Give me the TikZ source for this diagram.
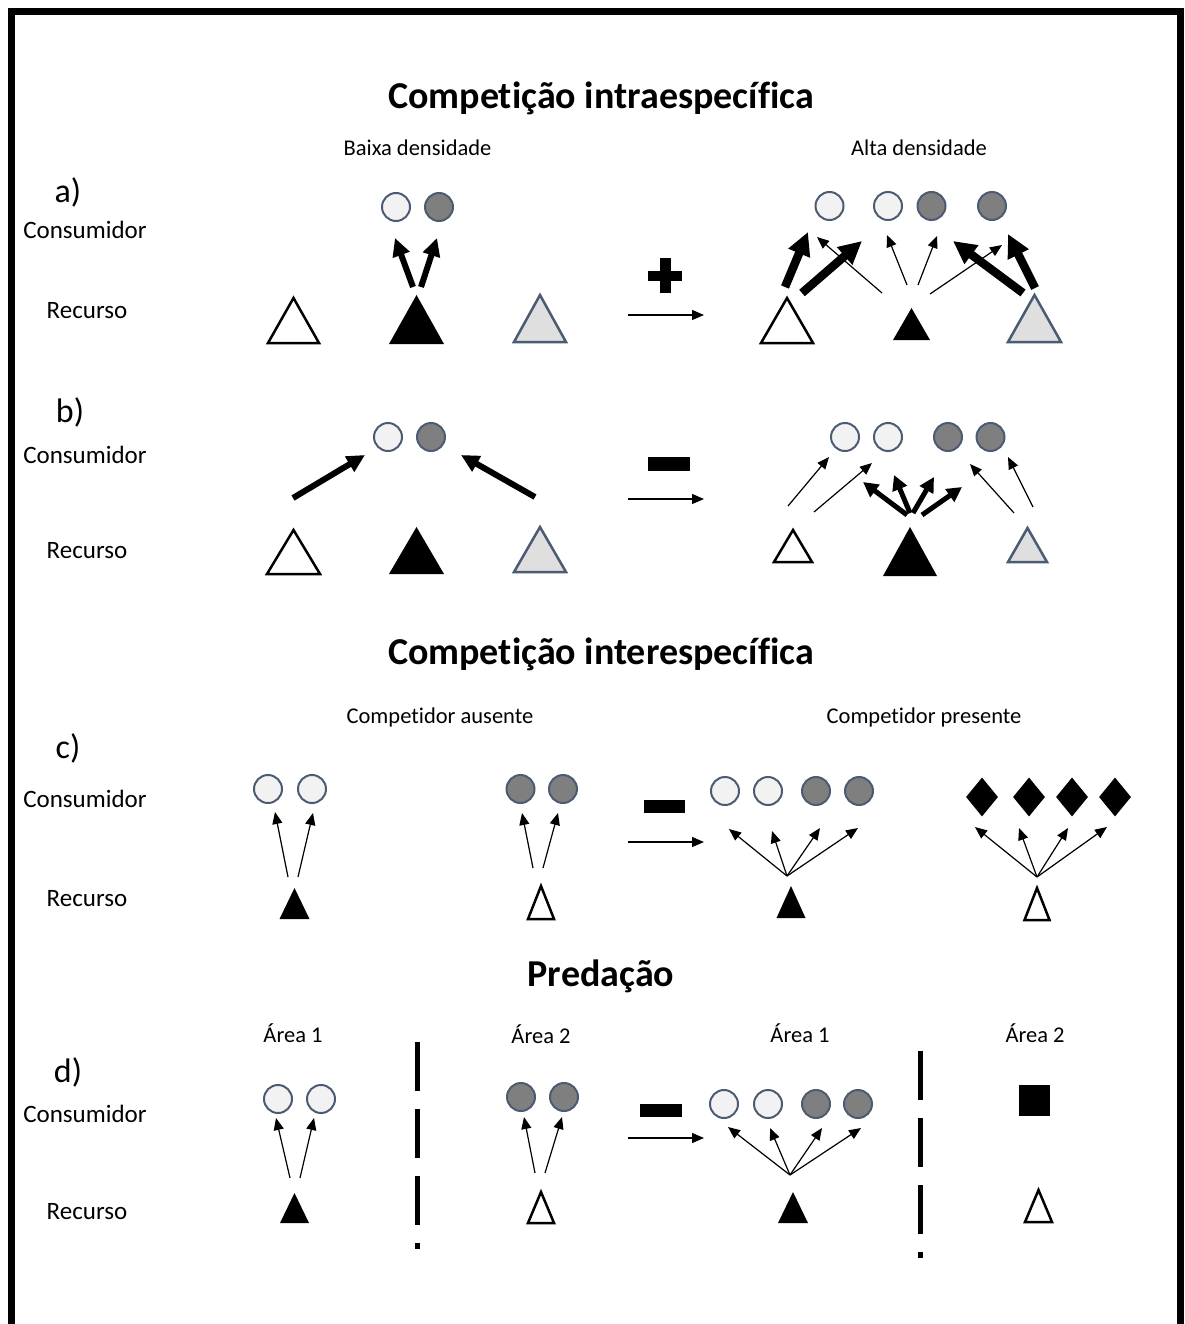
\documentclass[tikz,border=0pt]{standalone}
\usepackage{fontspec}
\setmainfont{Carlito}[Ligatures=CommonOff]
\usetikzlibrary{arrows.meta,shapes.geometric,positioning}

\definecolor{rim}{HTML}{4A5B72}
\definecolor{pale}{HTML}{F2F2F2}
\definecolor{shade}{HTML}{7F7F7F}
\definecolor{ash}{HTML}{DFDFDF}

\begin{document}
\begin{tikzpicture}[x=1pt, y=-1pt,
                    heading/.style={font=\fontsize{38}{44}\selectfont\bfseries},
                    sub/.style={font=\fontsize{22.5}{27}\selectfont},
                    lvl/.style={font=\fontsize{25}{30}\selectfont},
                    tag/.style={font=\fontsize{34}{40}\selectfont},
                    cons/.style={circle, draw=rim, line width=2pt, minimum size=28pt, inner sep=0pt},
                    lightc/.style={cons, fill=pale},
                    darkc/.style={cons, fill=shade},
                    res/.style={isosceles triangle, isosceles triangle stretches, rotate=90,
                                anchor=apex, inner sep=0pt, outer sep=0pt},
                    tri/.style 2 args={minimum width=#1pt, minimum height=#2pt},
                    whiter/.style={res, draw=black, fill=white, line width=2.5pt},
                    blackr/.style={res, fill=black},
                    greyr/.style={res, draw=rim, fill=ash, line width=2.5pt},
                    thin arr/.style={-{Triangle[length=12pt, width=10pt]}, line width=1.2pt},
                    thick arr/.style={-{Triangle[length=18pt, width=17pt]}, line width=6pt},
                    mid arr/.style={-{Triangle[length=15pt, width=15pt]}, line width=5pt},
                    heavy arr/.style={-{Triangle[length=23pt, width=22pt]}, line width=8.5pt},
                    sign/.style={fill=black, inner sep=0pt, minimum width=42pt, minimum height=14pt},
                    fence/.style={line width=5pt, dash pattern=on 49pt off 18pt}]
    \useasboundingbox (0,0) rectangle (1184,1324);
    \draw[line width=7pt] (11,1330) -- (11,11.5) -- (1180.5,11.5) -- (1180.5,1330);

    % titles and row labels
    \node[heading] (intra) at (601,98) {Competição intraespecífica};
    \node[sub] (baixa) at (417.5,148) {Baixa densidade};
    \node[sub] (alta) at (919,148) {Alta densidade};
    \node[tag] (la) at (68,192) {a)};
    \node[lvl] (consA) at (85,230) {Consumidor};
    \node[lvl] (recA) at (87,311) {Recurso};
    \node[tag] (lb) at (70,412) {b)};
    \node[lvl] (consB) at (85,455) {Consumidor};
    \node[lvl] (recB) at (87,551) {Recurso};
    \node[heading] (inter) at (601,654) {Competição interespecífica};
    \node[sub] (ausente) at (440,717) {Competidor ausente};
    \node[sub] (presente) at (924,717) {Competidor presente};
    \node[tag] (lc) at (68,748) {c)};
    \node[lvl] (consC) at (85,799) {Consumidor};
    \node[lvl] (recC) at (87,899) {Recurso};
    \node[heading] (pred) at (601,976) {Predação};
    \node[sub] (areaL1) at (293,1033) {Área 1};
    \node[sub] (areaL2) at (541,1034) {Área 2};
    \node[sub] (areaR1) at (800,1033) {Área 1};
    \node[sub] (areaR2) at (1035,1033) {Área 2};
    \node[tag] (ld) at (68,1072) {d)};
    \node[lvl] (consD) at (85,1114) {Consumidor};
    \node[lvl] (recD) at (87,1212) {Recurso};

    % consumers
    \node[lightc] (ca1) at (396,207) {};
    \node[darkc]  (ca2) at (439,207) {};
    \node[lightc] (ca3) at (829.5,206) {};
    \node[lightc] (ca4) at (888,206) {};
    \node[darkc]  (ca5) at (931.5,206) {};
    \node[darkc]  (ca6) at (992,206) {};
    \node[lightc] (cb1) at (388,437) {};
    \node[darkc]  (cb2) at (431,437) {};
    \node[lightc] (cb3) at (845,437) {};
    \node[lightc] (cb4) at (888,437) {};
    \node[darkc]  (cb5) at (948,437) {};
    \node[darkc]  (cb6) at (990.5,437) {};
    \node[lightc] (cc1) at (268,789) {};
    \node[lightc] (cc2) at (312,789) {};
    \node[darkc]  (cc3) at (520.5,789) {};
    \node[darkc]  (cc4) at (563,789) {};
    \node[lightc] (cc5) at (725,791) {};
    \node[lightc] (cc6) at (768,791) {};
    \node[darkc]  (cc7) at (816,791) {};
    \node[darkc]  (cc8) at (859,791) {};
    \foreach \i/\x in {1/982, 2/1029, 3/1072, 4/1115}
        \node[diamond, fill=black, inner sep=0pt, minimum width=32pt, minimum height=39pt] (rival\i) at (\x,797) {};
    \node[lightc] (cd1) at (278,1099) {};
    \node[lightc] (cd2) at (321,1099) {};
    \node[darkc]  (cd3) at (521,1097) {};
    \node[darkc]  (cd4) at (564,1097) {};
    \node[lightc] (cd5) at (724,1104) {};
    \node[lightc] (cd6) at (768,1104) {};
    \node[darkc]  (cd7) at (816,1104) {};
    \node[darkc]  (cd8) at (858,1104) {};
    \node[fill=black, inner sep=0pt, minimum size=31pt] (predador) at (1034,1100) {};

    % resources (placed by apex)
    \node[whiter, tri={51}{45}] (ta1) at (293.5,298) {};
    \node[blackr, tri={55}{49}] (ta2) at (416.5,295) {};
    \node[greyr,  tri={52}{47}] (ta3) at (540,295) {};
    \node[whiter, tri={52}{45}] (ta4) at (787,298) {};
    \node[blackr, tri={37}{32}] (ta5) at (911.5,308) {};
    \node[greyr,  tri={53}{47}] (ta6) at (1034.5,295) {};
    \node[whiter, tri={53}{44}] (tb1) at (293.5,530) {};
    \node[blackr, tri={55}{47}] (tb2) at (416.5,527) {};
    \node[greyr,  tri={52}{45}] (tb3) at (540,527) {};
    \node[whiter, tri={38}{32}] (tb4) at (793,530) {};
    \node[blackr, tri={54}{49}] (tb5) at (910,527) {};
    \node[greyr,  tri={39}{34}] (tb6) at (1027.5,528) {};
    \node[blackr, tri={30}{31}] (tc1) at (294.5,888) {};
    \node[whiter, tri={26}{33}] (tc2) at (541,886) {};
    \node[blackr, tri={29}{32}] (tc3) at (791,886) {};
    \node[whiter, tri={25}{32}] (tc4) at (1037,888) {};
    \node[blackr, tri={29}{30}] (td1) at (294.5,1193) {};
    \node[whiter, tri={26}{31}] (td2) at (541,1192) {};
    \node[blackr, tri={30}{31}] (td3) at (793,1192) {};
    \node[whiter, tri={27}{32}] (td4) at (1038.5,1190) {};

    % plus / minus and the arrows between the panels
    \draw[line width=10pt] (648,276) -- (682,276);
    \draw[line width=11pt] (665,258) -- (665,293);
    \node[sign] (minusB) at (669,464) {};
    \node[sign, minimum width=41pt, minimum height=13pt] (minusC) at (664,806) {};
    \node[sign, minimum height=13pt] (minusD) at (661,1110) {};
    \foreach \n/\y in {A/315, B/499, C/842, D/1138} {
        \coordinate (go\n) at (628,\y);
        \coordinate (to\n) at (704,\y);
        \draw[thin arr] (go\n) -- (to\n);
    }

    % feeding links
    \foreach \n/\sx/\sy/\tx/\ty in {a1/413/287/395/238, a2/421/287/437/238,
                                    b1/293/498/365/455, b2/535/497/461/455} {
        \coordinate (\n s) at (\sx,\sy);
        \coordinate (\n t) at (\tx,\ty);
        \draw[thick arr] (\n s) -- (\n t);
    }
    \foreach \n/\sx/\sy/\tx/\ty in {a3/785/287/808/232, a4/802/293/862/241,
                                    a5/1023/293/953/241, a6/1035/288/1008/234} {
        \coordinate (\n s) at (\sx,\sy);
        \coordinate (\n t) at (\tx,\ty);
        \draw[heavy arr] (\n s) -- (\n t);
    }
    \foreach \n/\sx/\sy/\tx/\ty in {b3/907/515/863/482, b4/910/513/894/475,
                                    b5/913/513/934/477, b6/922/515/962/487} {
        \coordinate (\n s) at (\sx,\sy);
        \coordinate (\n t) at (\tx,\ty);
        \draw[mid arr] (\n s) -- (\n t);
    }
    \foreach \n/\sx/\sy/\tx/\ty in {a7/882/293/817/237, a8/907/285/887/235,
                                    a9/918/285/937/236, a10/930/294/1002/245,
                                    b7/788/506/829/457, b8/814/512/872/463,
                                    b9/1014/513/970/464, b10/1033/507/1008/457,
                                    c1/288/877/275/812, c2/298/877/313/813,
                                    c3/533/868/522/813, c4/543/868/558/813,
                                    c5/787/876/729/829, c6/787/876/772/831,
                                    c7/787/876/820/828, c8/787/876/858/828,
                                    c9/1037/877/975/827, c10/1037/877/1019/828,
                                    c11/1037/877/1068/828, c12/1037/877/1107/827,
                                    d1/290/1178/276/1118, d2/300/1178/314/1118,
                                    d3/535/1173/524/1117, d4/545/1173/562/1117,
                                    d5/790/1175/728/1127, d6/790/1175/770/1128,
                                    d7/790/1175/822/1128, d8/790/1175/861/1128} {
        \coordinate (\n s) at (\sx,\sy);
        \coordinate (\n t) at (\tx,\ty);
        \draw[thin arr] (\n s) -- (\n t);
    }

    % area boundaries
    \coordinate (wallL top) at (417,1042);
    \coordinate (wallL end) at (417,1249);
    \coordinate (wallR top) at (920,1051);
    \coordinate (wallR end) at (920,1258);
    \draw[fence] (wallL top) -- (wallL end);
    \draw[fence] (wallR top) -- (wallR end);
\end{tikzpicture}
\end{document}
